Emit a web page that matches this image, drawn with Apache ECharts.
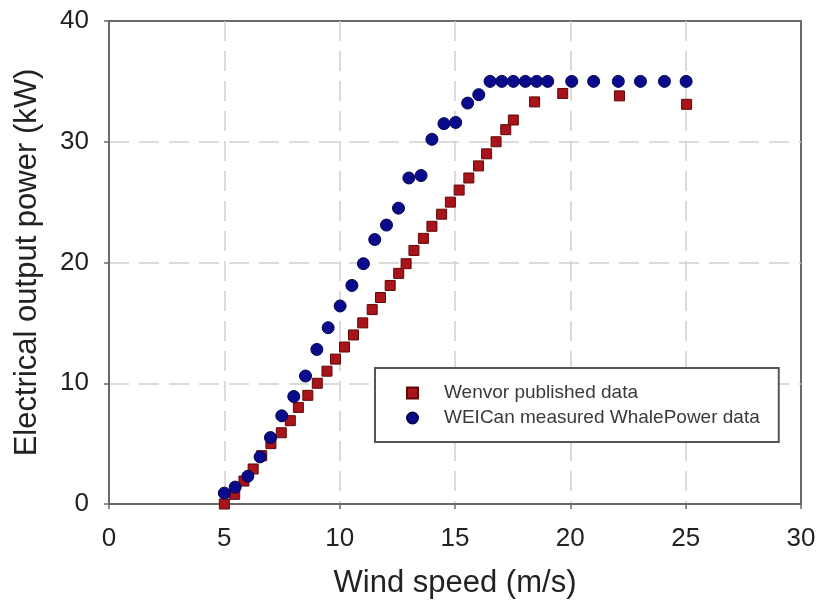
<!DOCTYPE html>
<html>
<head>
<meta charset="utf-8">
<script src="https://cdn.jsdelivr.net/npm/echarts@6/dist/echarts.min.js"></script>
<style>html,body{margin:0;padding:0;background:#fff;}#c{width:820px;height:606px;}</style>
</head>
<body>
<div id="c"></div>
<script>
// Wenvor published data
const wenvorX = [5.0,5.45,5.85,6.25,6.62,7.02,7.47,7.86,8.21,8.62,9.03,9.45,9.82,10.21,10.6,11.0,11.41,11.77,12.19,12.56,12.88,13.22,13.63,14.0,14.42,14.8,15.18,15.6,16.02,16.37,16.78,17.2,17.53,18.45,19.67,22.13,25.04];
const wenvorY = [0.0,0.8,1.9,2.9,4.0,5.0,5.9,6.9,8.0,9.0,10.0,11.0,12.0,13.0,14.0,15.0,16.1,17.1,18.1,19.1,19.9,21.0,22.0,23.0,24.0,25.0,26.0,27.0,28.0,29.0,30.0,31.0,31.8,33.3,34.0,33.8,33.1];
// WEICan measured WhalePower data
const weicanX = [5.0,5.47,6.02,6.55,7.0,7.49,8.01,8.52,9.01,9.5,10.02,10.53,11.03,11.52,12.03,12.55,13.0,13.53,14.0,14.52,15.03,15.55,16.03,16.52,17.03,17.53,18.05,18.54,19.02,20.06,21.01,22.08,23.04,24.08,25.02];
const weicanY = [0.9,1.4,2.3,3.9,5.5,7.3,8.9,10.6,12.8,14.6,16.4,18.1,19.9,21.9,23.1,24.5,27.0,27.2,30.2,31.5,31.6,33.2,33.9,35,35,35,35,35,35,35,35,35,35,35,35];
const xTicks = [0,5,10,15,20,25,30];
const yTicks = [0,10,20,30,40];
const seriesNames = ['Wenvor published data','WEICan measured WhalePower data'];

const pair = (xs, ys) => xs.map((x, i) => [x, ys[i]]);
const font = 'Liberation Sans, Arial, Helvetica, sans-serif';
const splitStyle = {color: '#d0d0d0', width: 1.5, type: [20, 10]};

const chart = echarts.init(document.getElementById('c'), null, {renderer: 'canvas'});
chart.setOption({
  animation: false,
  backgroundColor: '#fff',
  grid: {left: 109, right: 19, top: 21, bottom: 102, show: true, borderColor: '#6a6a6a', borderWidth: 2, backgroundColor: 'transparent'},
  xAxis: {
    type: 'value', min: xTicks[0], max: xTicks[xTicks.length-1], interval: 5,
    name: 'Wind speed (m/s)', nameLocation: 'middle', nameGap: 64,
    nameTextStyle: {fontFamily: font, fontSize: 31, color: '#222'},
    axisLine: {lineStyle: {color: '#6a6a6a', width: 2}},
    axisTick: {show: true, length: 5, lineStyle: {color: '#6a6a6a', width: 1.5}},
    axisLabel: {fontFamily: font, fontSize: 26, color: '#222', margin: 22},
    splitLine: {show: true, showMinLine: false, showMaxLine: false, lineStyle: splitStyle}
  },
  yAxis: {
    type: 'value', min: yTicks[0], max: yTicks[yTicks.length-1], interval: 10,
    name: 'Electrical output power (kW)', nameLocation: 'middle', nameGap: 66,
    nameTextStyle: {fontFamily: font, fontSize: 31, color: '#222'},
    axisLine: {show: true, lineStyle: {color: '#6a6a6a', width: 2}},
    axisTick: {show: true, length: 5, lineStyle: {color: '#6a6a6a', width: 1.5}},
    axisLabel: {fontFamily: font, fontSize: 26, color: '#222', margin: 20},
    splitLine: {show: true, showMinLine: false, showMaxLine: false, lineStyle: splitStyle}
  },
  legend: {
    orient: 'vertical', left: 375, top: 368,
    padding: [15, 19, 14, 31],
    itemWidth: 11, itemHeight: 11, itemGap: 5,
    borderColor: '#555', borderWidth: 2, backgroundColor: '#fff',
    formatter: name => '{s|}' + name,
    textStyle: {fontFamily: font, fontSize: 19, color: '#3a3a3a', lineHeight: 20, rich: {s: {width: 21}}},
    data: seriesNames
  },
  series: [
    {
      name: seriesNames[0], type: 'scatter', symbol: 'rect', symbolSize: 10,
      itemStyle: {color: '#a8141a', borderColor: '#5e0808', borderWidth: 1, opacity: 1},
      data: pair(wenvorX, wenvorY), z: 3
    },
    {
      name: seriesNames[1], type: 'scatter', symbol: 'circle', symbolSize: 12,
      itemStyle: {color: '#0a0a8c', borderColor: '#04044f', borderWidth: 1, opacity: 1},
      data: pair(weicanX, weicanY), z: 4
    }
  ]
});
</script>
</body>
</html>
